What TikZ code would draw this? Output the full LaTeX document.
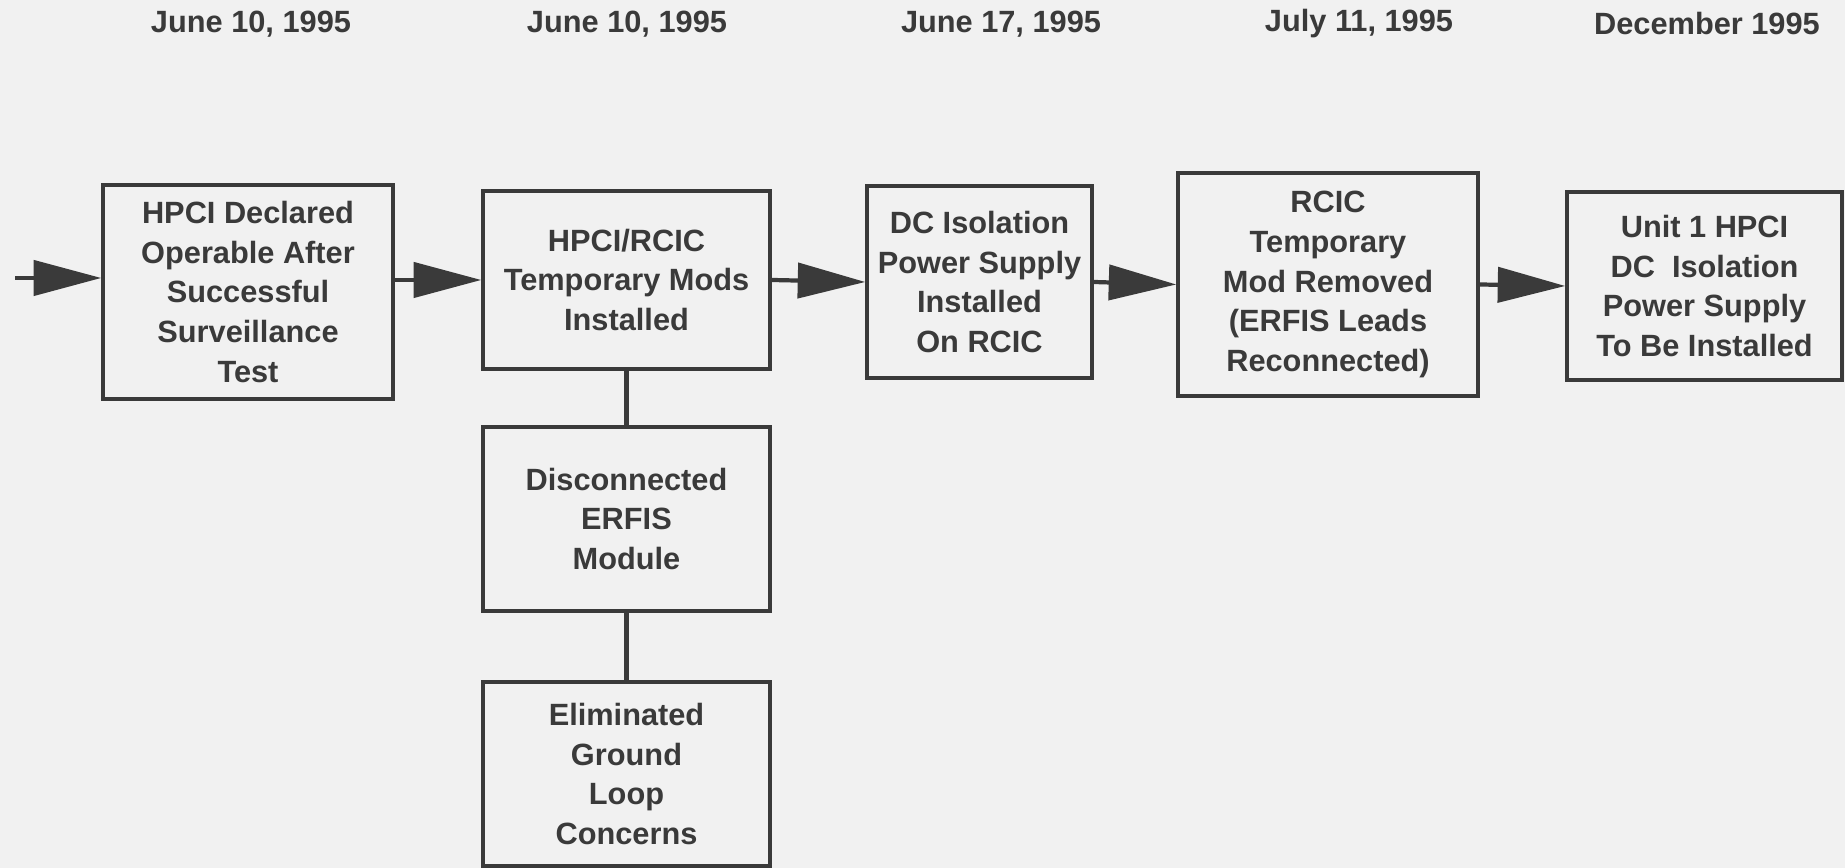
\documentclass[tikz,border=0pt]{standalone}
\usepackage{fontspec}
\setmainfont{Liberation Sans}
\usetikzlibrary{arrows.meta}

\definecolor{ink}{HTML}{3A3A3A}
\definecolor{paper}{HTML}{F1F1F1}

\begin{document}
\begin{tikzpicture}[
    event/.style={draw=ink, line width=2pt, align=center, inner sep=0pt,
      text=ink, font=\fontsize{17.5}{22.5}\selectfont\bfseries},
    date/.style={text=ink, font=\fontsize{17.5}{21}\selectfont\bfseries},
    flow/.style={draw=ink, line width=2.4pt, -{Triangle[length=1.35cm, width=0.7cm]}},
    link/.style={draw=ink, line width=2.4pt}
  ]
  \fill[paper] (0,0) rectangle (36.9,17.36);
  \useasboundingbox (0,0) rectangle (36.9,17.36);

  \node[date] at (5.02, 16.88) (d1) {June 10, 1995};
  \node[date] at (12.54, 16.88) (d2) {June 10, 1995};
  \node[date] at (20.02, 16.88) (d3) {June 17, 1995};
  \node[date] at (27.18, 16.88) (d4) {July 11, 1995};
  \node[date] at (34.14, 16.88) (d5) {December 1995};

  \node[event, minimum width=5.8cm, minimum height=4.28cm] at (4.96, 11.52) (hpci)
    {HPCI Declared\\Operable After\\Successful\\Surveillance\\Test};
  \node[event, minimum width=5.74cm, minimum height=3.56cm] at (12.53, 11.76) (mods)
    {HPCI/RCIC\\Temporary Mods\\Installed};
  \node[event, minimum width=4.5cm, minimum height=3.84cm] at (19.59, 11.72) (dciso)
    {DC Isolation\\Power Supply\\Installed\\On RCIC};
  \node[event, minimum width=6.0cm, minimum height=4.46cm] at (26.56, 11.67) (rcic)
    {RCIC\\Temporary\\Mod Removed\\(ERFIS Leads\\Reconnected)};
  \node[event, minimum width=5.5cm, minimum height=3.76cm] at (34.09, 11.64) (unit)
    {Unit 1 HPCI\\DC\ \ Isolation\\Power Supply\\To Be Installed};
  \node[event, minimum width=5.74cm, minimum height=3.68cm] at (12.53, 6.98) (erfis)
    {Disconnected\\ERFIS\\Module};
  \node[event, minimum width=5.74cm, minimum height=3.68cm] at (12.53, 1.88) (loop)
    {Eliminated\\Ground\\Loop\\Concerns};

  \coordinate (in) at (0.3, 11.8);

  \draw[flow] (in) -- (in -| hpci.west);
  \draw[flow] (hpci.east |- mods.west) -- (mods.west);
  \draw[flow] (mods.east) -- (dciso.west);
  \draw[flow] (dciso.east) -- (rcic.west);
  \draw[flow] (rcic.east) -- (unit.west);
  \draw[link] (mods.south) -- (erfis.north);
  \draw[link] (erfis.south) -- (loop.north);
\end{tikzpicture}
\end{document}
